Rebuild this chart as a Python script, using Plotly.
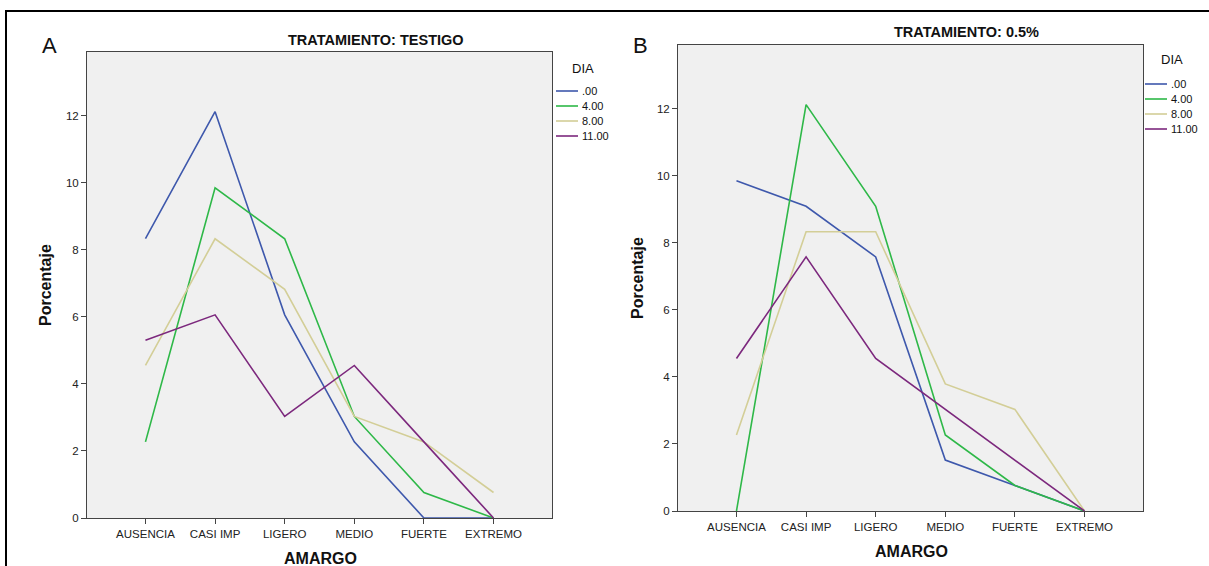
import plotly.graph_objects as go

W, H = 1209, 566
H_EFF = 560  # vertical calibration of the rendered page

categories = ["AUSENCIA", "CASI IMP", "LIGERO", "MEDIO", "FUERTE", "EXTREMO"]
dias = [".00", "4.00", "8.00", "11.00"]
colors = ["#3E58AC", "#2EB848", "#D3CE97", "#7C287D"]
y_ticks = [0, 2, 4, 6, 8, 10, 12]

# Panel A: TRATAMIENTO TESTIGO
testigo_d00 = [8.33, 12.12, 6.06, 2.27, 0.00, 0.00]
testigo_d04 = [2.27, 9.85, 8.33, 3.03, 0.76, 0.00]
testigo_d08 = [4.55, 8.33, 6.82, 3.03, 2.27, 0.76]
testigo_d11 = [5.30, 6.06, 3.03, 4.55, 2.27, 0.00]

# Panel B: TRATAMIENTO 0.5%
t05_d00 = [9.85, 9.09, 7.58, 1.52, 0.76, 0.00]
t05_d04 = [0.00, 12.12, 9.09, 2.27, 0.76, 0.00]
t05_d08 = [2.27, 8.33, 8.33, 3.79, 3.03, 0.00]
t05_d11 = [4.55, 7.58, 4.55, 3.03, 1.52, 0.00]

panel_a = [testigo_d00, testigo_d04, testigo_d08, testigo_d11]
panel_b = [t05_d00, t05_d04, t05_d08, t05_d11]

FONT = "Liberation Sans, Arial, sans-serif"


def px_x(v):
    return v / W


def px_y(v):
    return 1 - v / H_EFF


fig = go.Figure()
for series, name, col in zip(panel_a, dias, colors):
    fig.add_trace(go.Scatter(x=categories, y=series, mode="lines", name=name,
                             line=dict(color=col, width=1.6), xaxis="x", yaxis="y",
                             showlegend=False))
for series, name, col in zip(panel_b, dias, colors):
    fig.add_trace(go.Scatter(x=categories, y=series, mode="lines", name=name,
                             line=dict(color=col, width=1.6), xaxis="x2", yaxis="y2",
                             showlegend=False))

axis_common = dict(showgrid=False, zeroline=False, showline=True, linecolor="#444444",
                   linewidth=1, mirror=True, ticks="outside", ticklen=5, tickcolor="#444444",
                   tickfont=dict(family=FONT, size=11.5, color="#222222"))

fig.update_layout(
    width=W, height=H, margin=dict(l=0, r=0, t=0, b=0),
    paper_bgcolor="white", plot_bgcolor="#F0F0F0",
    xaxis=dict(domain=[px_x(87), px_x(552)], anchor="y", type="category",
               categoryorder="array", categoryarray=categories,
               range=[-0.84, 5.84], **axis_common),
    yaxis=dict(domain=[px_y(518), px_y(52)], anchor="x", range=[0, 13.9],
               tickvals=y_ticks, **axis_common),
    xaxis2=dict(domain=[px_x(678), px_x(1143)], anchor="y2", type="category",
                categoryorder="array", categoryarray=categories,
                range=[-0.84, 5.84], **axis_common),
    yaxis2=dict(domain=[px_y(511), px_y(45)], anchor="x2", range=[0, 13.9],
                tickvals=y_ticks, **axis_common),
)

ann = []


def text(x, y, s, size, bold=False, angle=0, xanchor="center", color="#111111"):
    ann.append(dict(x=px_x(x), y=px_y(y), xref="paper", yref="paper", text=s,
                    showarrow=False, xanchor=xanchor, yanchor="middle", textangle=angle,
                    font=dict(family=FONT, size=size, color=color,
                              weight="bold" if bold else "normal")))


# panel letters
text(49, 45, "A", 22)
text(640, 45, "B", 22)
# titles
text(376, 40, "TRATAMIENTO: TESTIGO", 14.5, bold=True)
text(966, 32, "TRATAMIENTO: 0.5%", 14.5, bold=True)
# axis titles
text(320, 558, "AMARGO", 16, bold=True)
text(911, 551, "AMARGO", 16, bold=True)
text(45, 285, "Porcentaje", 16, bold=True, angle=-90)
text(637, 278, "Porcentaje", 16, bold=True, angle=-90)

shapes = []
# manual legends
for (lx, ty, row0) in [(556, 68, 91), (1145, 60, 84)]:
    text(lx + 27, ty, "DIA", 13)
    for i, (name, col) in enumerate(zip(dias, colors)):
        yy = row0 + i * 15
        shapes.append(dict(type="line", xref="paper", yref="paper",
                           x0=px_x(lx), x1=px_x(lx + 22), y0=px_y(yy), y1=px_y(yy),
                           line=dict(color=col, width=1.6)))
        text(lx + 24, yy, name, 11, xanchor="left")

# outer frame
shapes.append(dict(type="rect", xref="paper", yref="paper",
                   x0=px_x(6), x1=px_x(1215), y0=px_y(11), y1=px_y(580),
                   line=dict(color="black", width=2)))

fig.update_layout(annotations=ann, shapes=shapes)
fig.write_html("out.html")
